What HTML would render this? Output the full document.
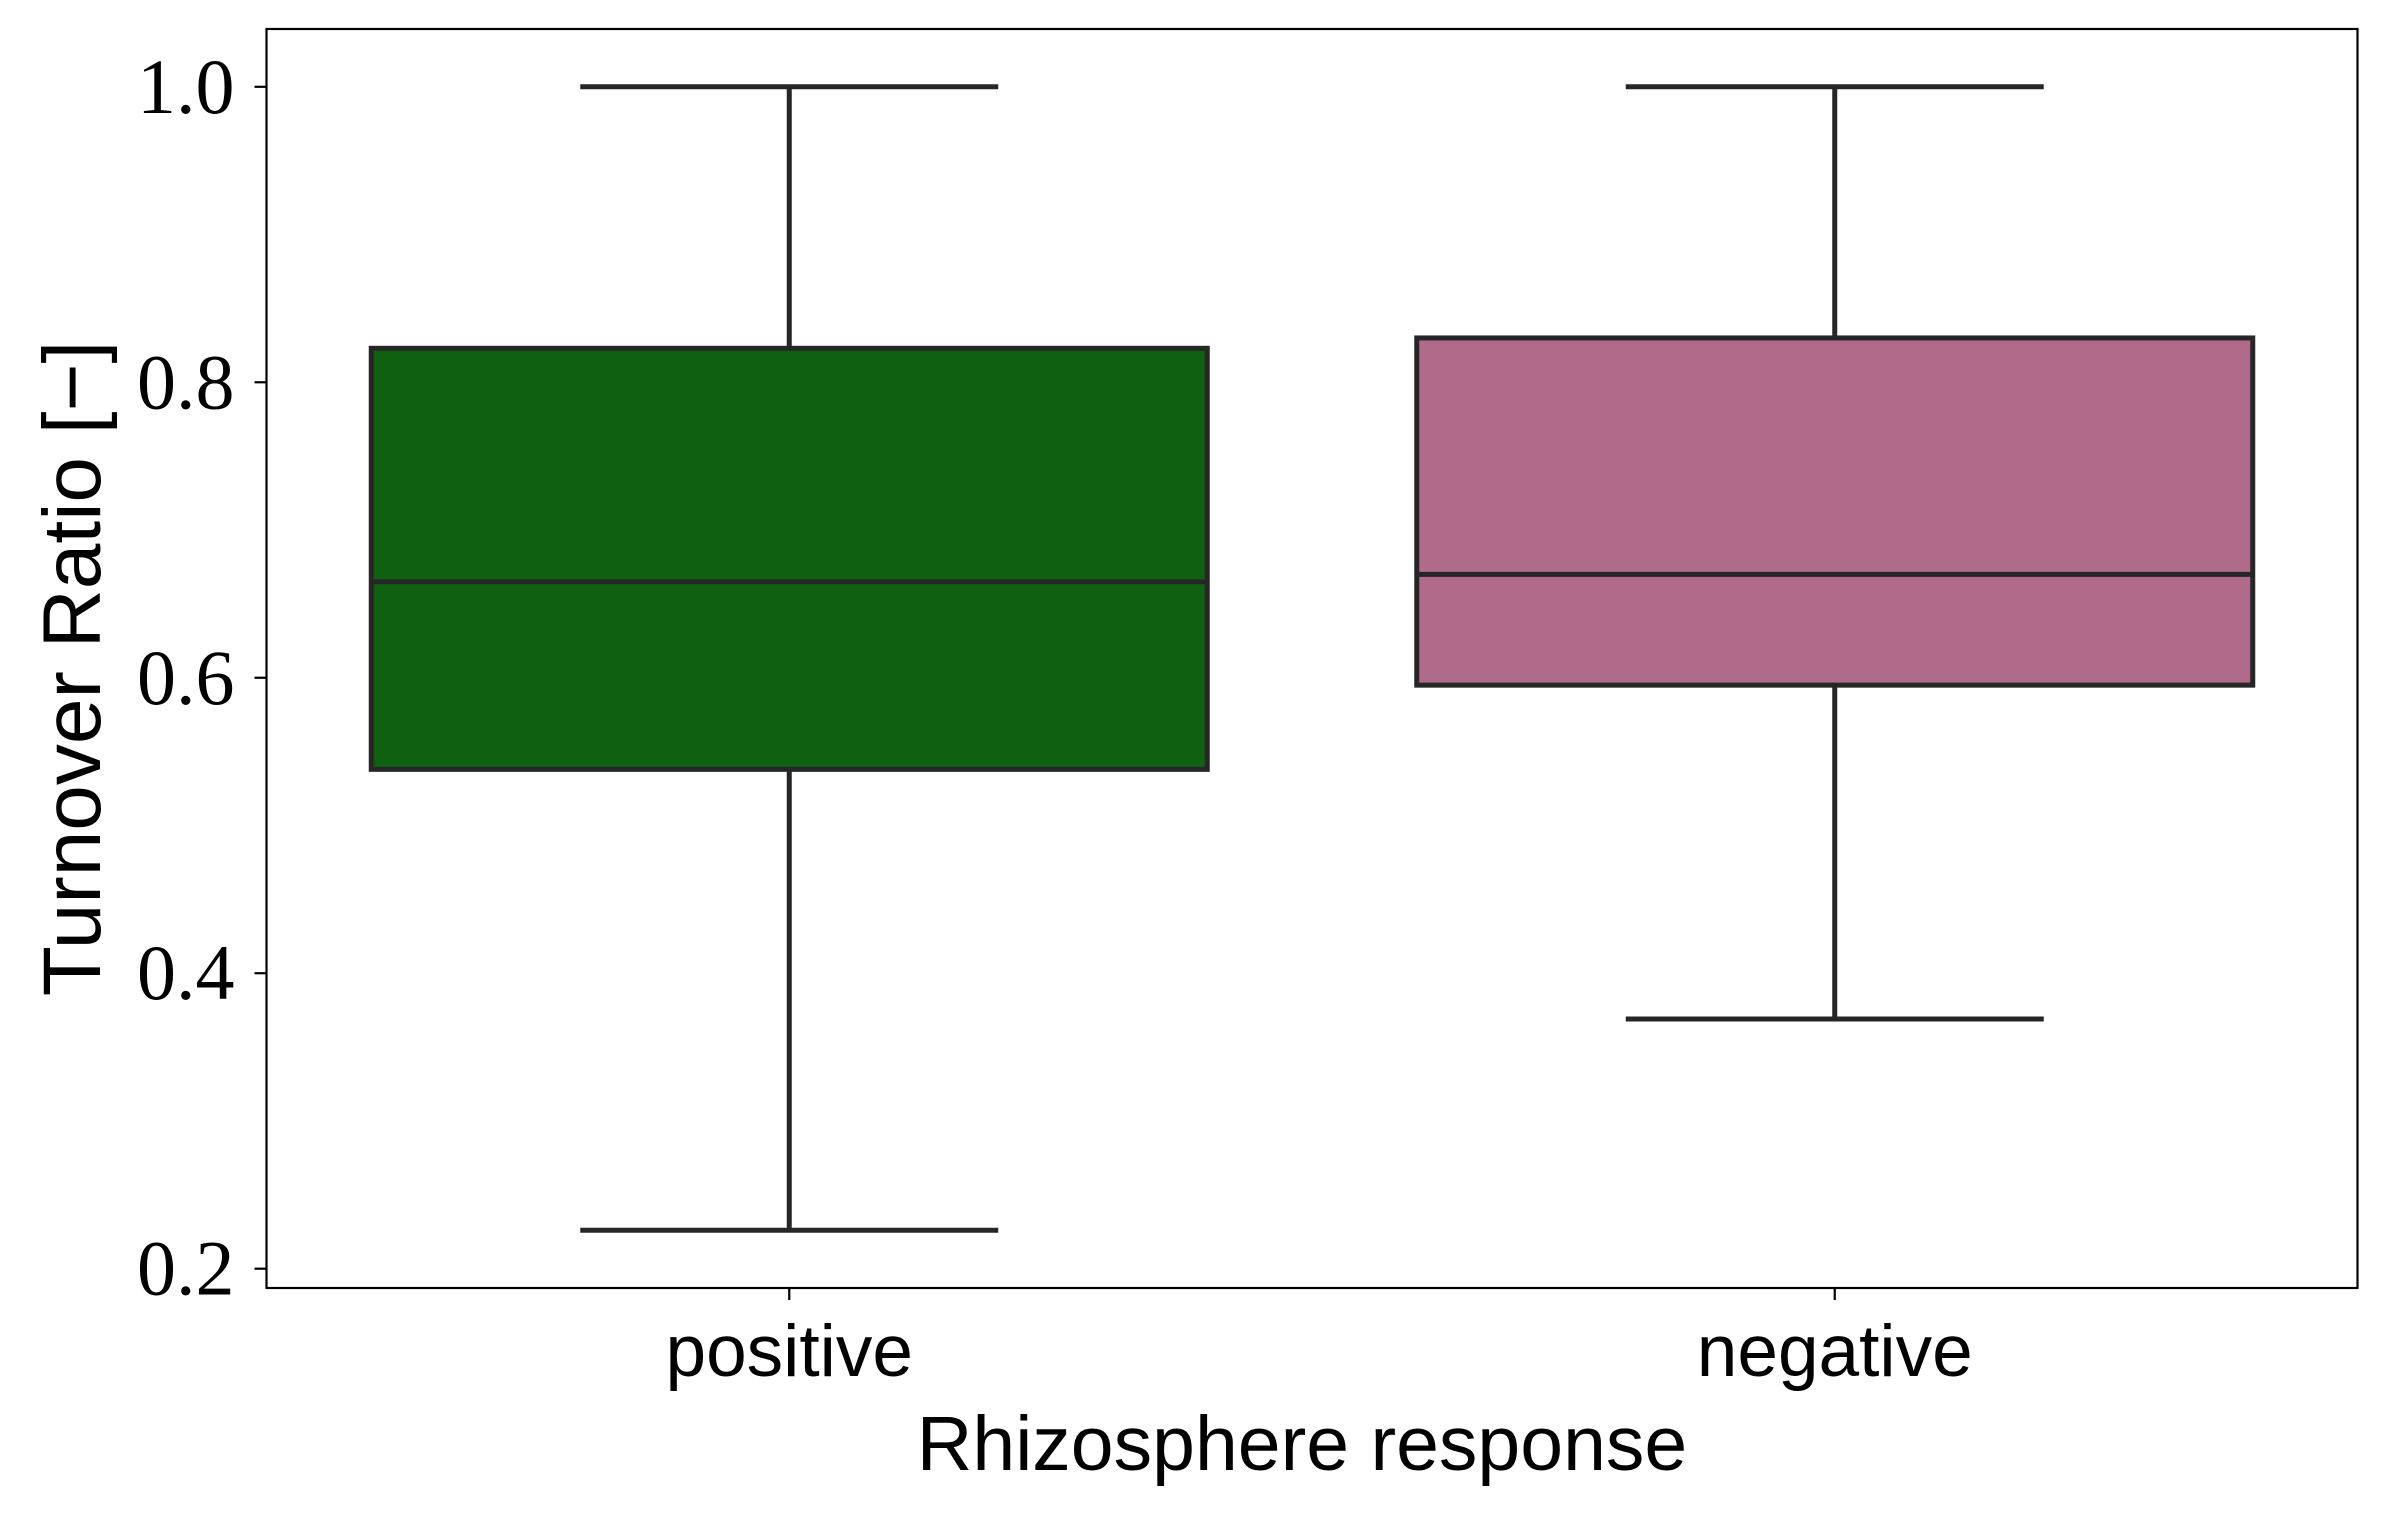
<!DOCTYPE html>
<html><head><meta charset="utf-8">
<style>html,body{margin:0;padding:0;background:#fff;}svg{display:block;}</style>
</head><body>
<svg id="chart" width="2388" height="1520" viewBox="0 0 2388 1520" xmlns="http://www.w3.org/2000/svg"></svg>
<script>
const categories = ["positive", "negative"];
const whiskerHigh = [1.0, 1.0];
const q3Values = [0.823, 0.830];
const medians = [0.665, 0.670];
const q1Values = [0.538, 0.595];
const whiskerLow = [0.226, 0.369];
const yTicks = [0.2, 0.4, 0.6, 0.8, 1.0];
const yTickLabels = ["0.2", "0.4", "0.6", "0.8", "1.0"];

const NS = "http://www.w3.org/2000/svg";
const svg = document.getElementById("chart");
const L = 266.5, R = 2357.5, T = 29, B = 1288;
const yScale = v => 86.8 + (1.0 - v) / 0.8 * (1268.7 - 86.8);
const bandW = (R - L) / categories.length;
const xCenter = i => L + bandW * (i + 0.5);
const boxW = 836;
const colors = ["#0f6010", "#b06b8a"];
const ink = "#262626";

function mk(tag, attrs, parent) {
  const e = document.createElementNS(NS, tag);
  for (const k in attrs) e.setAttribute(k, attrs[k]);
  (parent || svg).appendChild(e);
  return e;
}

const axes = mk("rect", {x: L, y: T, width: R - L, height: B - T, fill: "none", stroke: "#000", "stroke-width": 2.2});



yTicks.forEach((v, i) => {
  const y = yScale(v);
  const t = mk("line", {x1: L - 12, x2: L, y1: y, y2: y, stroke: "#000", "stroke-width": 2.2});
  
  
  const lab = mk("text", {x: L - 32, y: y + 26, "text-anchor": "end", "font-family": "Liberation Serif, serif", "font-size": 78, fill: "#000"});
  lab.textContent = yTickLabels[i];
  
  
});

categories.forEach((c, i) => {
  const cx = xCenter(i);
  const g = mk("g", {});
  
  
  const sw = 5;
  const w1 = mk("line", {x1: cx, x2: cx, y1: yScale(whiskerHigh[i]), y2: yScale(q3Values[i]), stroke: ink, "stroke-width": sw}, g);
  
  
  const w2 = mk("line", {x1: cx, x2: cx, y1: yScale(q1Values[i]), y2: yScale(whiskerLow[i]), stroke: ink, "stroke-width": sw}, g);
  
  
  const c1 = mk("line", {x1: cx - boxW / 4, x2: cx + boxW / 4, y1: yScale(whiskerHigh[i]), y2: yScale(whiskerHigh[i]), stroke: ink, "stroke-width": sw}, g);
  
  
  const c2 = mk("line", {x1: cx - boxW / 4, x2: cx + boxW / 4, y1: yScale(whiskerLow[i]), y2: yScale(whiskerLow[i]), stroke: ink, "stroke-width": sw}, g);
  
  
  const box = mk("rect", {x: cx - boxW / 2, y: yScale(q3Values[i]), width: boxW, height: yScale(q1Values[i]) - yScale(q3Values[i]), fill: colors[i], stroke: ink, "stroke-width": sw}, g);
  
  
  const md = mk("line", {x1: cx - boxW / 2, x2: cx + boxW / 2, y1: yScale(medians[i]), y2: yScale(medians[i]), stroke: ink, "stroke-width": sw}, g);
  
  
  const xt = mk("line", {x1: cx, x2: cx, y1: B, y2: B + 12, stroke: "#000", "stroke-width": 2.2});
  
  
  const xl = mk("text", {x: cx, y: B + 88, "text-anchor": "middle", "font-family": "Liberation Sans, sans-serif", "font-size": 73, fill: "#000"});
  xl.textContent = c;
  
  
});

const xTitle = mk("text", {x: (L + R) / 2 - 10, y: 1470, "text-anchor": "middle", "font-family": "Liberation Sans, sans-serif", "font-size": 77, fill: "#000"});
xTitle.textContent = "Rhizosphere response";



const yTitle = mk("text", {x: 0, y: 0, "text-anchor": "middle", "font-family": "Liberation Sans, sans-serif", "font-size": 82, fill: "#000", transform: "translate(100," + ((T + B) / 2 + 10) + ") rotate(-90)"});
yTitle.textContent = "Turnover Ratio [\u2212]";


</script>
</body></html>
